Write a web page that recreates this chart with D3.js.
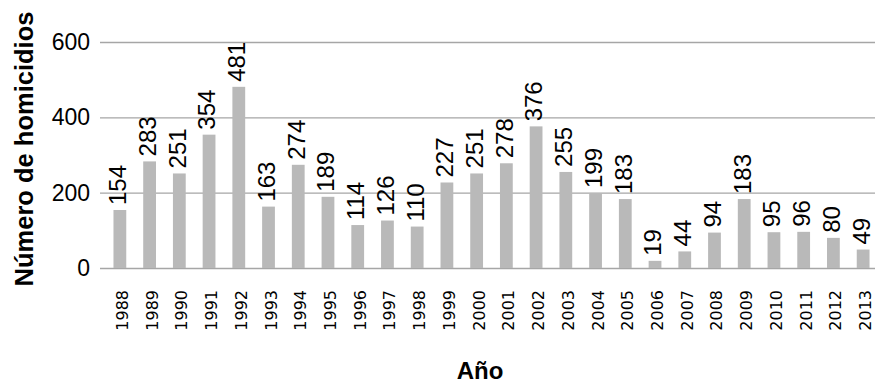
<!DOCTYPE html>
<html>
<head>
<meta charset="utf-8">
<script src="https://cdn.jsdelivr.net/npm/d3@7"></script>
<style>
  html, body { margin: 0; padding: 0; background: #fff; }
  svg { display: block; }
</style>
</head>
<body>
<svg id="chart" width="875" height="383"></svg>
<script>
// Homicidios por año, 1988–2013
const years = ["1988","1989","1990","1991","1992","1993","1994","1995","1996","1997","1998","1999","2000",
               "2001","2002","2003","2004","2005","2006","2007","2008","2009","2010","2011","2012","2013"];
const homicides = [154, 283, 251, 354, 481, 163, 274, 189, 114, 126, 110, 227, 251,
                   278, 376, 255, 199, 183, 19, 44, 94, 183, 95, 96, 80, 49];
const yTicks = [0, 200, 400, 600];

const svg = d3.select("#chart");
const plot = { left: 100, right: 875, top: 42, bottom: 268 };
const sans = "'Liberation Sans', Arial, sans-serif";

const x = d3.scaleBand()
  .domain(years)
  .range([105, 878])
  .paddingInner(0.57)
  .paddingOuter(0.285);

const y = d3.scaleLinear()
  .domain([0, 600])
  .range([plot.bottom, plot.top]);

// horizontal gridlines and y tick labels
const yAxis = d3.axisLeft(y)
  .tickValues(yTicks)
  .tickSize(-(plot.right - plot.left))
  .tickPadding(10);

const gy = svg.append("g")
  .attr("transform", `translate(${plot.left},0)`)
  .call(yAxis);
gy.select(".domain").remove();
gy.selectAll(".tick line").attr("stroke", "#a6a6a6").attr("stroke-width", 1.3);
gy.selectAll(".tick text")
  .attr("font-family", sans)
  .attr("font-size", 23)
  .attr("fill", "#000");

// bars
svg.append("g").selectAll("rect")
  .data(years)
  .join("rect")
  .attr("x", d => x(d))
  .attr("width", x.bandwidth())
  .attr("y", (d, i) => y(homicides[i]))
  .attr("height", (d, i) => y(0) - y(homicides[i]))
  .attr("fill", "#b9b9b9");

// value labels above the bars
svg.append("g").selectAll("text")
  .data(years)
  .join("text")
  .attr("transform", (d, i) =>
    `translate(${x(d) + x.bandwidth()},${y(homicides[i]) - 5}) rotate(-90)`)
  .attr("font-family", sans)
  .attr("font-size", 24)
  .attr("fill", "#000")
  .text((d, i) => homicides[i]);

// category axis labels
const xAxis = d3.axisBottom(x).tickSize(0).tickPadding(0);
const gx = svg.append("g")
  .attr("transform", `translate(0,${plot.bottom})`)
  .call(xAxis);
gx.select(".domain").remove();
gx.selectAll(".tick text")
  .attr("font-family", "'DejaVu Sans', Verdana, sans-serif")
  .attr("font-size", 16)
  .attr("fill", "#000")
  .attr("text-anchor", "end")
  .attr("dy", null)
  .attr("y", 0)
  .attr("transform", "translate(8,22) rotate(-90)");

// axis titles
svg.append("text")
  .attr("transform", "translate(33,149) rotate(-90)")
  .attr("text-anchor", "middle")
  .attr("font-family", sans)
  .attr("font-weight", "bold")
  .attr("font-size", 25.5)
  .text("Número de homicidios");

svg.append("text")
  .attr("x", 480)
  .attr("y", 379)
  .attr("text-anchor", "middle")
  .attr("font-family", sans)
  .attr("font-weight", "bold")
  .attr("font-size", 24)
  .text("Año");
</script>
</body>
</html>
